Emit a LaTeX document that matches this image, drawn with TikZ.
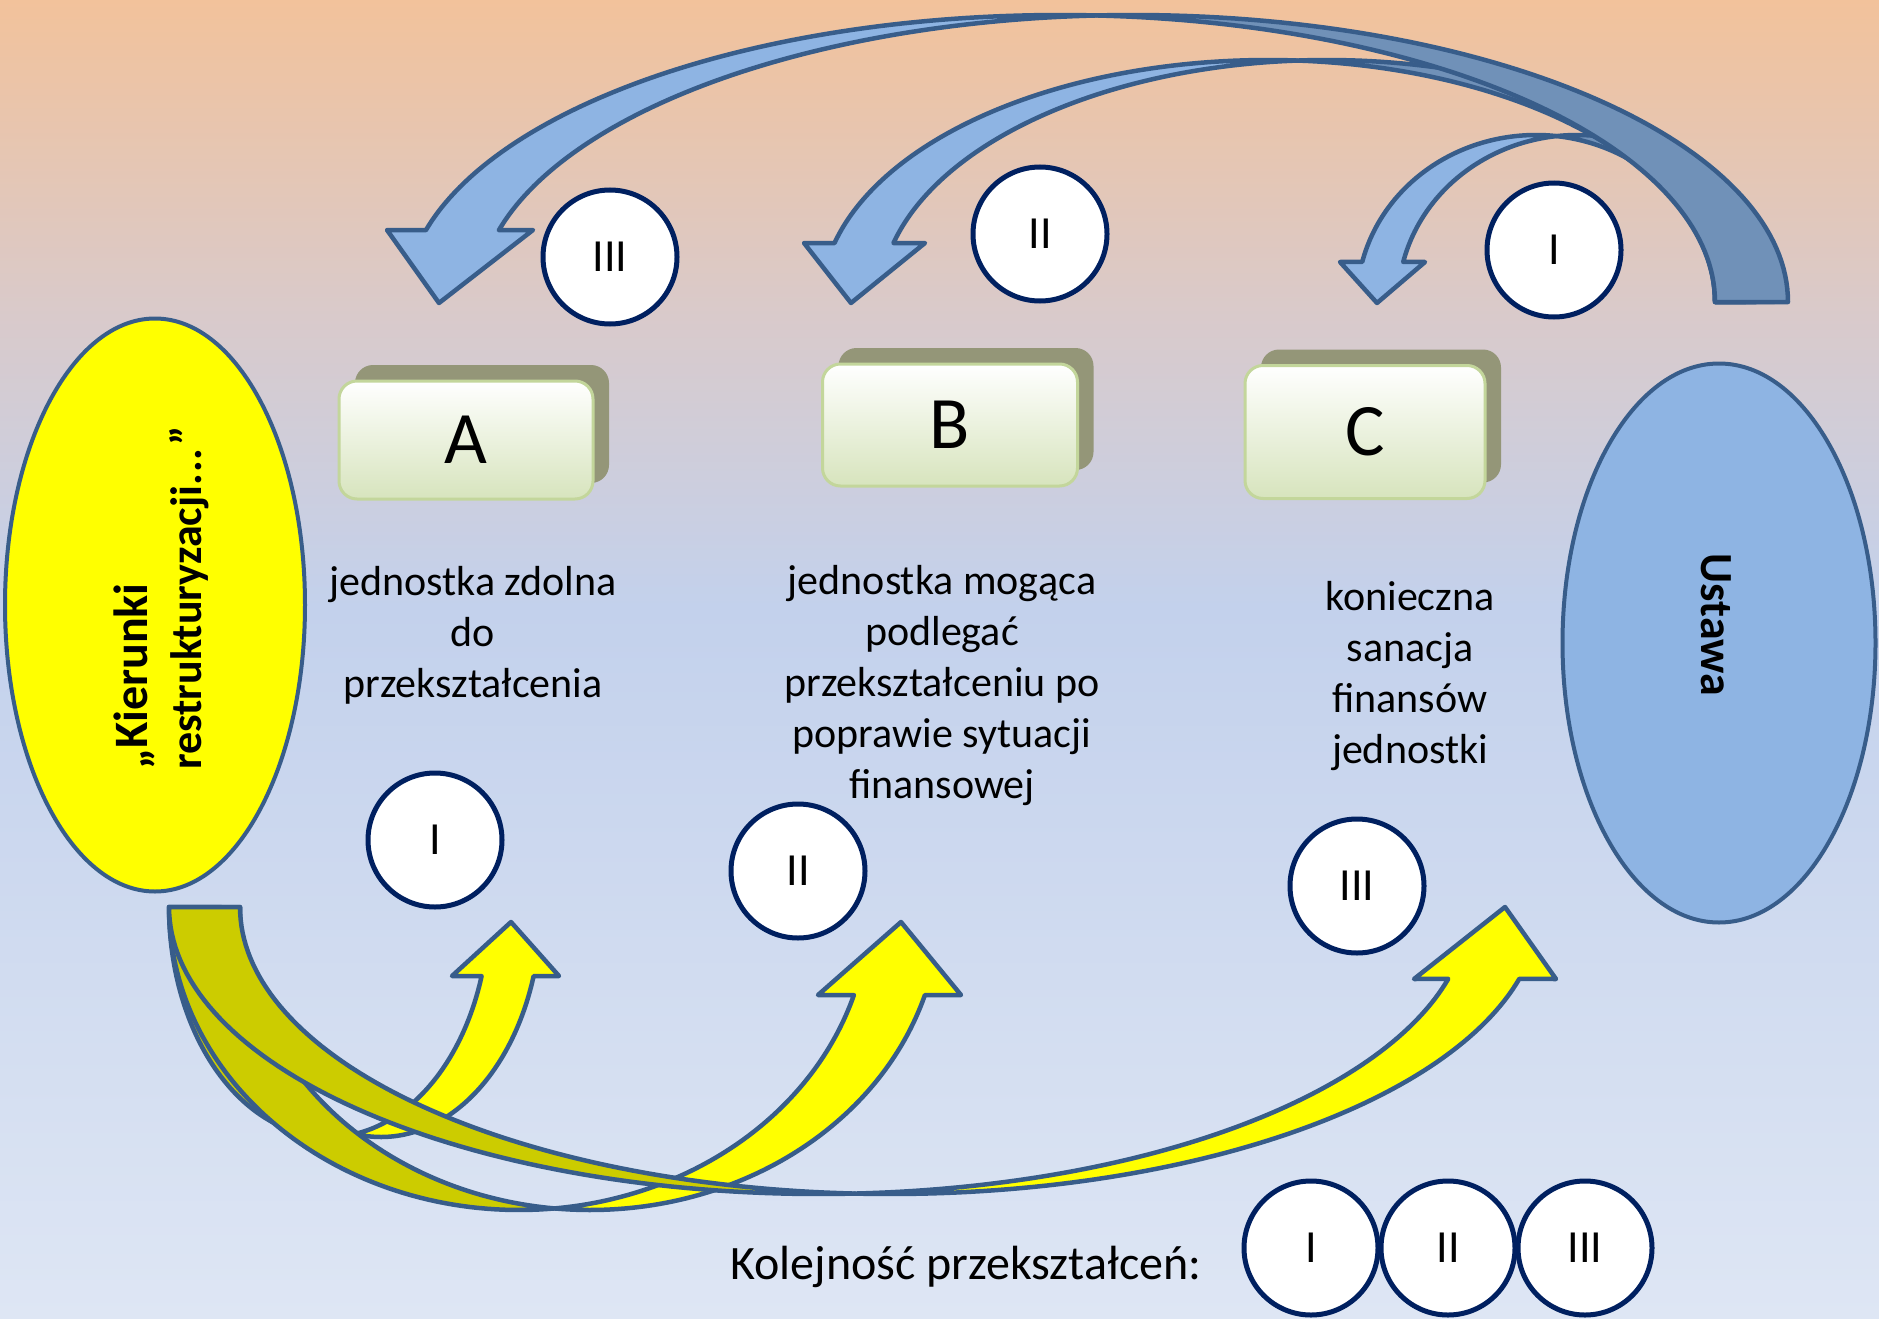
\documentclass[tikz,border=0pt]{standalone}
\usepackage{fontspec}
\setmainfont{Carlito}
\usetikzlibrary{shapes.geometric,shadows}

\definecolor{bgtop}{HTML}{F2C29B}
\definecolor{bgpink}{HTML}{D9CACB}
\definecolor{bgblue}{HTML}{C3D1EC}
\definecolor{bgbot}{HTML}{DEE6F4}
\definecolor{edgeblue}{HTML}{385D8A}
\definecolor{arcblue}{HTML}{8EB4E3}
\definecolor{arcdark}{HTML}{7091B8}
\definecolor{arcyel}{HTML}{FFFF00}
\definecolor{arcolive}{HTML}{CCCC00}
\definecolor{navy}{HTML}{002060}
\definecolor{boxedge}{HTML}{C3D69B}
\definecolor{boxbot}{HTML}{D7E4BD}
\definecolor{boxshade}{HTML}{949678}

\pgfdeclareverticalshading{bgfade}{100bp}{color(0bp)=(bgbot); color(25bp)=(bgbot); color(52bp)=(bgblue); color(63bp)=(bgpink); color(75bp)=(bgtop); color(100bp)=(bgtop)}

\tikzset{
  arcpts/.style={variable=\t, samples=70},
  bluearc/.style={draw=edgeblue, line width=4.5pt, line join=round},
  yelarc/.style={draw=edgeblue, line width=4.5pt, line join=round},
  ordcirc/.style={circle, draw=navy, line width=5pt, fill=white, minimum size=134pt, inner sep=0pt, font=\fontsize{46}{50}\selectfont},
  letterbox/.style={draw=boxedge, line width=3pt, rounded corners=18pt, top color=white, bottom color=boxbot,
    general shadow={fill=boxshade, shadow xshift=16pt, shadow yshift=16pt}, font=\fontsize{74}{80}\selectfont},
  bodytext/.style={align=center, font=\fontsize{42}{51}\selectfont},
  oval/.style={ellipse, draw=edgeblue, line width=4pt, inner sep=0pt},
}

\begin{document}
\begin{tikzpicture}[x=1pt, y=-1pt]
  % background
  \shade[shading=bgfade] (0,0) rectangle (1879,1319);
  \useasboundingbox (0,0) rectangle (1879,1319);

  % the two ovals
  \node[oval, fill=arcyel, minimum width=300pt, minimum height=573pt] (kier) at (155,605) {};
  \node[rotate=90, align=left, font=\bfseries\fontsize{48}{54}\selectfont] (kiertxt) at (161,598)
    {„Kierunki\\{\fontsize{44}{54}\selectfont restrukturyzacji.\kern1pt.\kern1pt.\kern3pt”}};
  \node[oval, fill=arcblue, minimum width=313pt, minimum height=559pt] (ustawa) at (1719,643) {};
  \node[rotate=-90, font=\bfseries\fontsize{46}{54}\selectfont] (ustawatxt) at (1716,625) {Ustawa};

  % boxes A, B, C
  \node[letterbox, minimum width=254pt, minimum height=118pt] (boxA) at (466,440) {A};
  \node[letterbox, minimum width=255pt, minimum height=122pt] (boxB) at (950,425) {B};
  \node[letterbox, minimum width=240pt, minimum height=133pt] (boxC) at (1365,432) {C};

  \node[bodytext] (txtA) at (473,635) {jednostka zdolna\\do\\przekształcenia};
  \node[bodytext] (txtB) at (942,686) {jednostka mogąca\\podlegać\\przekształceniu po\\poprawie sytuacji\\finansowej};
  \node[bodytext] (txtC) at (1410,676) {konieczna\\sanacja\\finansów\\jednostki};

  % Blue arc to C
  \filldraw[bluearc, fill=arcdark] plot[arcpts, domain=96.6:0] ({1577+179*cos(\t)},{302-167*sin(\t)})
    -- plot[arcpts, domain=0:83.4] ({1536+179*cos(\t)},{302-167*sin(\t)}) -- cycle;
  \filldraw[bluearc, fill=arcblue] plot[arcpts, domain=83.4:166.1] ({1536+179*cos(\t)},{302-167*sin(\t)})
    -- (1340,262) -- (1377,303) -- (1425,262)
    -- plot[arcpts, domain=166.1:96.6] ({1577+179*cos(\t)},{302-167*sin(\t)}) -- cycle;
  % Blue arc to B
  \filldraw[bluearc, fill=arcdark] plot[arcpts, domain=93.8:0] ({1327+447*cos(\t)},{302-242*sin(\t)})
    -- plot[arcpts, domain=0:86.2] ({1268+447*cos(\t)},{302-242*sin(\t)}) -- cycle;
  \filldraw[bluearc, fill=arcblue] plot[arcpts, domain=86.2:165.9] ({1268+447*cos(\t)},{302-242*sin(\t)})
    -- (804,243) -- (851,303) -- (925,243)
    -- plot[arcpts, domain=165.9:93.8] ({1327+447*cos(\t)},{302-242*sin(\t)}) -- cycle;
  % Blue arc to A
  \filldraw[bluearc, fill=arcdark] plot[arcpts, domain=93.2:0] ({1133+655*cos(\t)},{302-287*sin(\t)})
    -- plot[arcpts, domain=0:86.8] ({1060+655*cos(\t)},{302-287*sin(\t)}) -- cycle;
  \filldraw[bluearc, fill=arcblue] plot[arcpts, domain=86.8:165.5] ({1060+655*cos(\t)},{302-287*sin(\t)})
    -- (387,230) -- (439,303) -- (533,230)
    -- plot[arcpts, domain=165.5:93.2] ({1133+655*cos(\t)},{302-287*sin(\t)}) -- cycle;

  % Yellow arc to I
  \filldraw[yelarc, fill=arcolive] plot[arcpts, domain=80.6:180] ({329+160*cos(\t)},{907+230*sin(\t)})
    -- plot[arcpts, domain=180:99.4] ({381+160*cos(\t)},{907+230*sin(\t)}) -- cycle;
  \filldraw[yelarc, fill=arcyel] plot[arcpts, domain=80.6:17.5] ({329+160*cos(\t)},{907+230*sin(\t)})
    -- (452,976) -- (511,922) -- (559,976)
    -- plot[arcpts, domain=17.5:99.4] ({381+160*cos(\t)},{907+230*sin(\t)}) -- cycle;
  % Yellow arc to II
  \filldraw[yelarc, fill=arcolive] plot[arcpts, domain=84.2:180] ({519+350*cos(\t)},{907+303*sin(\t)})
    -- plot[arcpts, domain=180:95.8] ({590+350*cos(\t)},{907+303*sin(\t)}) -- cycle;
  \filldraw[yelarc, fill=arcyel] plot[arcpts, domain=84.2:16.9] ({519+350*cos(\t)},{907+303*sin(\t)})
    -- (818,995) -- (901,922) -- (961,995)
    -- plot[arcpts, domain=16.9:95.8] ({590+350*cos(\t)},{907+303*sin(\t)}) -- cycle;
  % Yellow arc to III
  \filldraw[yelarc, fill=arcolive] plot[arcpts, domain=86.9:180] ({819+650*cos(\t)},{907+287*sin(\t)})
    -- plot[arcpts, domain=180:93.1] ({890+650*cos(\t)},{907+287*sin(\t)}) -- cycle;
  \filldraw[yelarc, fill=arcyel] plot[arcpts, domain=86.9:14.5] ({819+650*cos(\t)},{907+287*sin(\t)})
    -- (1414,979) -- (1505,907) -- (1556,979)
    -- plot[arcpts, domain=14.5:93.1] ({890+650*cos(\t)},{907+287*sin(\t)}) -- cycle;

  % order marks
  \node[ordcirc] (tIII) at (610,257) {III};
  \node[ordcirc] (tII) at (1040,234) {II};
  \node[ordcirc] (tI) at (1554,250) {I};
  \node[ordcirc] (bI) at (435,840) {I};
  \node[ordcirc] (bII) at (798,871) {II};
  \node[ordcirc] (bIII) at (1357,886) {III};

  % legend
  \node[anchor=base east, font=\fontsize{48}{56}\selectfont] (ordtxt) at (1205,1279) {Kolejność przekształceń:};
  \node[ordcirc] (lI) at (1311,1248) {I};
  \node[ordcirc] (lII) at (1448,1248) {II};
  \node[ordcirc] (lIII) at (1585,1248) {III};
\end{tikzpicture}
\end{document}
